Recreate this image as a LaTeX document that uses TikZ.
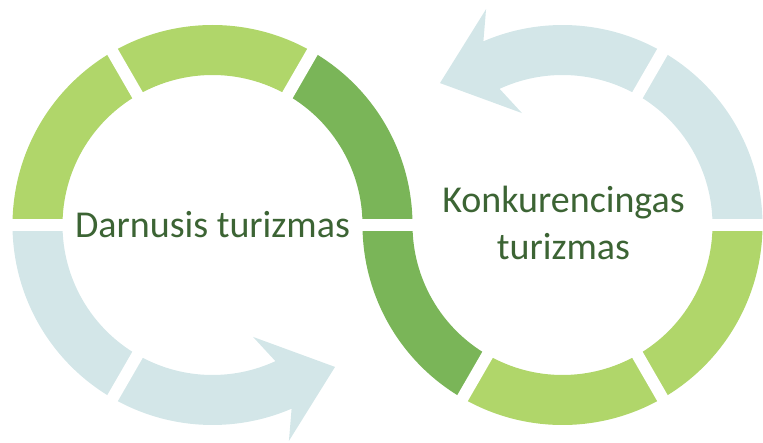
\documentclass[tikz,border=0pt]{standalone}
\usepackage{fontspec}
\setmainfont{Carlito}
\usetikzlibrary{calc}
\definecolor{lgreen}{RGB}{176,214,106}
\definecolor{dgreen}{RGB}{122,181,88}
\definecolor{lblue}{RGB}{211,230,232}
\definecolor{tgreen}{RGB}{60,100,52}
\newcommand\ringseg[4]{%
  \fill[#4] ($(#1)+(#2:200)$) arc[start angle=#2,end angle=#3,radius=200]
    -- ($(#1)+(#3:150)$) arc[start angle=#3,end angle=#2,radius=150] -- cycle;}
\begin{document}
\begin{tikzpicture}[x=1pt,y=1pt,
  gap/.style={white,line width=12pt},
  lbl/.style={text=tgreen,font=\fontsize{38}{47}\selectfont,inner sep=0pt}]
\useasboundingbox (0,0) rectangle (763,442);
\coordinate (L) at (212.5,217);
\coordinate (R) at (562.5,217);
% left ring
\ringseg{L}{120}{180}{lgreen}
\ringseg{L}{60}{120}{lgreen}
\ringseg{L}{0}{60}{dgreen}
\ringseg{L}{180}{240}{lblue}
\fill[lblue] ($(L)+(240:200)$) arc[start angle=240,end angle=293.3,radius=200]
  -- ($(L)+(289.5:229)$) -- ($(L)+(310.8:187.5)$) -- ($(L)+(289.9:119)$)
  -- ($(L)+(294.8:150)$) arc[start angle=294.8,end angle=240,radius=150] -- cycle;
% right ring
\ringseg{R}{180}{240}{dgreen}
\ringseg{R}{240}{300}{lgreen}
\ringseg{R}{300}{360}{lgreen}
\ringseg{R}{0}{60}{lblue}
\fill[lblue] ($(R)+(60:200)$) arc[start angle=60,end angle=113.3,radius=200]
  -- ($(R)+(109.5:229)$) -- ($(R)+(130.8:187.5)$) -- ($(R)+(109.9:119)$)
  -- ($(R)+(114.8:150)$) arc[start angle=114.8,end angle=60,radius=150] -- cycle;
% gaps
\foreach \a in {0,60,120,180,240}
  \draw[gap] ($(L)+(\a:144)$) -- ($(L)+(\a:206)$);
\foreach \a in {0,60,240,300}
  \draw[gap] ($(R)+(\a:144)$) -- ($(R)+(\a:206)$);
% labels
\node[lbl,anchor=base] (t1) at (212.5,204) {Darnusis turizmas};
\node[lbl,anchor=base] (t2) at (563.5,229) {Konkurencingas};
\node[lbl,anchor=base] (t3) at (563.5,182) {turizmas};
\end{tikzpicture}
\end{document}
